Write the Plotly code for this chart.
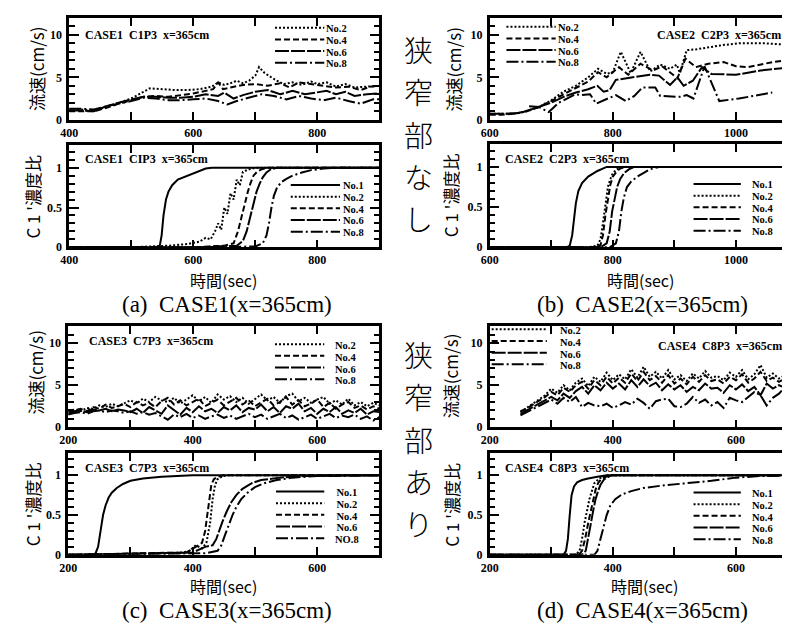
import plotly.graph_objects as go

W, H = 790, 625
def fx(px): return px / W
def fy(py): return 1 - py / H

DASH = {"No.1": "solid", "No.2": "2px,2px", "No.4": "6px,3px", "No.6": "14px,2px", "No.8": "12px,3px,2px,3px"}

# ---------------- CASE1 flow speed ----------------
a_flow_t2 = [400,420,440,460,480,500,520,530,550,570,590,610,630,640,650,660,670,680,690,700,706,715,730,745,760,775,790,800,815,830,845,860,880,900]
a_flow_v2 = [1.2,1.2,1.1,1.5,2.0,2.5,3.3,3.7,3.6,3.5,3.5,3.6,3.9,4.4,4.1,4.3,4.6,4.3,4.6,5.2,6.2,5.5,4.8,4.2,4.4,4.1,4.5,4.2,4.4,3.9,4.2,3.8,3.9,4.0]
a_flow_t4 = [400,420,440,460,480,500,520,540,560,580,600,620,632,640,648,660,680,700,720,740,755,770,790,810,830,850,870,885,900]
a_flow_v4 = [1.0,1.0,1.0,1.4,1.9,2.3,2.7,2.8,2.7,2.9,3.1,3.4,3.6,4.4,3.6,3.8,4.1,4.2,4.0,4.3,3.8,4.4,4.2,4.0,3.8,3.9,3.5,3.9,4.0]
a_flow_t6 = [400,420,440,460,480,500,520,540,560,580,600,620,640,650,665,680,700,720,740,760,780,800,815,830,845,860,880,900]
a_flow_v6 = [1.1,1.1,1.0,1.6,2.0,2.4,2.7,2.7,2.6,2.6,2.7,3.0,2.8,3.2,2.5,2.9,3.3,3.5,3.0,3.4,3.0,3.2,3.4,3.0,3.3,2.8,3.0,3.1]
a_flow_t8 = [400,420,440,460,480,500,520,540,560,580,600,620,640,655,670,690,710,730,750,770,790,810,830,850,870,890,900]
a_flow_v8 = [1.3,1.3,1.2,1.6,1.9,2.2,2.6,2.5,2.3,2.3,2.4,2.5,2.2,1.8,2.2,2.6,3.0,2.8,2.4,2.8,2.5,2.3,2.6,2.2,1.9,2.4,2.4]

# ---------------- CASE1 concentration ----------------
a_con_t1 = [400,450,500,540,546,549,552,556,560,566,575,590,605,620,630,700,800,900]
a_con_v1 = [0,0,0,0,0.02,0.15,0.4,0.6,0.7,0.78,0.85,0.9,0.95,0.99,1.0,1.0,1.0,1.0]
a_con_t2 = [400,500,560,590,610,620,628,635,640,645,650,655,660,665,670,675,680,690,700,900]
a_con_v2 = [0,0,0.02,0.04,0.07,0.12,0.1,0.2,0.3,0.22,0.5,0.42,0.68,0.6,0.85,0.78,0.95,0.98,1.0,1.0]
a_con_t4 = [400,600,650,665,672,678,683,688,692,697,703,710,720,900]
a_con_v4 = [0,0,0.02,0.05,0.2,0.4,0.55,0.7,0.8,0.9,0.95,0.98,1.0,1.0]
a_con_t6 = [400,600,670,680,686,692,697,702,707,712,718,725,735,900]
a_con_v6 = [0,0,0.02,0.08,0.2,0.4,0.55,0.7,0.8,0.88,0.94,0.98,1.0,1.0]
a_con_t8 = [400,600,700,712,718,722,726,730,735,742,750,760,775,790,810,830,900]
a_con_v8 = [0,0,0.01,0.05,0.15,0.3,0.5,0.65,0.75,0.82,0.86,0.9,0.94,0.97,0.99,1.0,1.0]

# ---------------- CASE2 flow speed ----------------
b_flow_t2 = [600,620,640,660,680,700,720,740,760,776,790,800,813,829,845,861,877,893,904,909,920,936,952,979,1005,1048,1090]
b_flow_v2 = [0.7,0.7,0.7,1.0,1.5,2.3,3.3,4.0,5.0,6.0,5.4,5.6,8.0,5.5,8.0,5.7,6.5,6.0,6.5,5.5,8.2,8.3,8.5,8.8,9.0,9.0,8.8]
b_flow_t4 = [600,620,640,660,680,700,720,740,760,776,790,810,825,845,865,880,905,918,935,955,980,1000,1020,1060,1080,1090]
b_flow_v4 = [0.6,0.6,0.7,1.0,1.5,2.2,3.0,3.8,4.5,5.6,5.0,6.2,5.3,6.6,5.8,6.3,4.9,7.2,6.2,6.6,6.8,6.3,6.2,6.8,7.0,6.5]
b_flow_t6 = [600,620,650,680,700,720,740,760,775,785,795,805,830,860,875,893,905,915,930,945,960,1000,1040,1080,1090]
b_flow_v6 = [0.7,0.7,0.8,1.5,2.0,2.7,3.2,3.6,4.0,3.3,3.5,4.7,5.0,5.3,5.2,4.1,5.0,4.0,4.6,6.2,5.4,5.3,5.8,6.1,5.8]
b_flow_t8 = [664,680,696,712,739,749,763,773,792,805,821,835,848,869,877,909,920,931,949,973,1005,1059]
b_flow_v8 = [1.6,1.5,0.9,2.0,3.0,2.9,3.0,1.9,2.5,2.9,2.2,2.8,3.8,3.8,2.8,2.7,2.9,2.5,6.3,2.2,2.5,3.2]

# ---------------- CASE2 concentration ----------------
b_con_t1 = [600,700,725,730,734,737,740,744,750,760,775,790,1100]
b_con_v1 = [0,0,0,0.02,0.15,0.35,0.55,0.7,0.8,0.88,0.95,1.0,1.0]
b_con_t2 = [600,760,775,780,784,788,792,796,800,806,815,1100]
b_con_v2 = [0,0,0.02,0.1,0.3,0.55,0.75,0.85,0.92,0.97,1.0,1.0]
b_con_t4 = [600,770,780,784,788,792,796,800,806,812,820,1100]
b_con_v4 = [0,0,0.03,0.15,0.4,0.6,0.78,0.88,0.94,0.98,1.0,1.0]
b_con_t6 = [600,780,790,795,799,803,807,812,818,826,835,1100]
b_con_v6 = [0,0,0.05,0.2,0.45,0.62,0.75,0.85,0.92,0.97,1.0,1.0]
b_con_t8 = [600,795,805,810,814,818,823,830,840,850,860,875,1100]
b_con_v8 = [0,0,0.05,0.2,0.45,0.62,0.75,0.82,0.88,0.93,0.97,1.0,1.0]

# ---------------- CASE3 flow speed (10 s steps, 200-700) ----------------
c_flow_t = list(range(200, 701, 10))
c_flow_v2 = [2.0,2.1,1.9,2.3,2.2,2.6,2.4,2.8,2.5,2.9,3.2,2.8,3.4,3.0,3.6,3.2,3.0,3.5,2.8,3.3,3.8,3.1,3.6,2.9,3.9,3.3,3.7,3.0,3.5,2.8,3.4,3.9,3.2,3.6,2.9,3.7,4.0,3.1,3.5,2.9,3.3,3.6,2.8,3.2,2.7,3.4,2.6,3.0,2.5,2.9,2.6]
c_flow_v4 = [1.8,2.0,2.2,1.9,2.4,2.2,2.7,2.3,2.5,2.8,2.4,3.0,2.6,2.9,2.4,3.1,3.5,2.7,3.2,2.6,3.0,3.4,2.5,2.9,3.3,2.6,3.1,3.5,2.7,3.2,2.5,2.9,3.4,2.6,3.0,3.6,2.7,3.2,2.5,2.8,3.3,2.4,2.9,2.2,2.7,3.0,2.3,2.6,2.1,2.5,2.2]
c_flow_v6 = [1.6,1.9,2.0,1.8,2.1,2.0,2.2,1.9,2.1,2.0,1.8,2.2,1.7,2.4,2.0,1.6,2.6,2.1,1.5,2.3,1.8,2.5,1.9,2.2,1.7,2.4,2.0,2.6,1.8,2.3,2.1,2.7,1.9,2.4,1.7,2.5,2.2,2.8,1.9,2.3,1.6,2.2,1.8,2.4,1.6,2.0,1.7,2.2,1.5,1.9,1.8]
c_flow_v8 = [1.5,1.7,1.8,1.6,1.9,2.0,1.8,2.0,1.9,1.7,1.9,1.6,1.8,1.5,1.7,1.3,0.9,1.5,1.2,1.6,1.1,1.4,1.0,1.3,1.5,1.1,1.4,1.0,1.3,1.6,1.2,1.5,1.0,1.3,1.6,1.1,1.4,0.9,1.2,1.5,1.0,1.3,1.6,1.1,1.4,1.2,1.5,1.0,1.3,0.8,1.2]

# ---------------- CASE3 concentration ----------------
c_con_t1 = [200,240,244,248,252,256,260,265,270,278,288,300,320,350,400,700]
c_con_v1 = [0,0,0.02,0.1,0.3,0.5,0.62,0.72,0.78,0.84,0.89,0.93,0.96,0.98,1.0,1.0]
c_con_t2 = [200,380,395,405,415,422,428,432,436,440,446,455,470,700]
c_con_v2 = [0,0.02,0.05,0.12,0.08,0.15,0.4,0.7,0.88,0.95,0.98,1.0,1.0,1.0]
c_con_t4 = [200,390,405,415,420,424,427,430,434,440,450,700]
c_con_v4 = [0,0.03,0.1,0.15,0.3,0.55,0.75,0.88,0.95,0.98,1.0,1.0]
c_con_t6 = [200,400,420,432,438,442,448,455,462,470,480,495,510,540,580,700]
c_con_v6 = [0,0.03,0.1,0.12,0.2,0.3,0.42,0.55,0.66,0.75,0.83,0.9,0.94,0.97,0.99,1.0]
c_con_t8 = [200,420,440,446,452,458,464,470,478,488,500,515,535,560,600,700]
c_con_v8 = [0,0.02,0.05,0.12,0.25,0.38,0.5,0.6,0.7,0.78,0.85,0.9,0.94,0.97,0.99,1.0]

# ---------------- CASE4 flow speed (10 s steps, 250-700) ----------------
d_flow_t = list(range(250, 701, 10))
d_flow_v2 = [1.8,2.3,2.9,3.3,3.8,4.6,4.1,5.0,4.4,5.3,5.8,4.9,6.0,5.4,6.5,5.6,6.3,5.7,6.9,5.9,7.2,6.0,6.6,5.8,6.8,5.7,6.2,5.5,6.4,5.8,6.7,5.9,6.1,5.6,6.5,6.0,6.8,5.7,6.3,7.4,5.9,6.4,5.8,6.2,5.6,6.0]
d_flow_v4 = [1.9,2.2,2.7,3.1,3.6,4.2,3.8,4.7,4.2,5.0,5.4,4.6,5.6,5.0,6.0,5.2,5.9,5.3,6.4,5.5,6.6,5.6,6.1,5.3,6.2,5.2,5.8,5.1,6.0,5.4,6.2,5.5,5.7,5.2,6.0,5.6,6.3,5.3,5.8,6.6,5.5,5.9,5.4,5.8,5.2,5.6]
d_flow_v6 = [1.6,2.0,2.4,2.8,3.3,3.6,3.2,4.0,3.5,4.3,4.8,4.0,5.0,4.4,5.3,4.6,5.2,4.5,5.6,4.8,5.7,4.9,5.3,4.4,5.1,4.5,5.0,4.2,4.8,4.4,5.2,4.6,4.7,4.1,5.0,4.5,5.1,4.3,4.8,3.8,5.2,4.6,5.0,4.7,5.3,4.9]
d_flow_v8 = [1.4,1.8,2.2,2.6,3.0,3.3,2.8,3.5,3.0,3.6,2.4,2.9,2.6,2.5,2.8,2.3,2.6,3.0,2.7,3.4,2.9,2.2,3.1,3.3,3.4,2.5,2.4,2.8,3.6,2.9,3.3,2.6,3.0,2.3,3.5,3.2,3.0,3.6,4.2,3.8,2.6,3.5,4.0,4.8,3.7,4.3]

# ---------------- CASE4 concentration ----------------
d_con_t1 = [200,320,324,327,330,333,337,342,350,360,375,390,700]
d_con_v1 = [0,0,0.05,0.2,0.5,0.75,0.86,0.91,0.94,0.96,0.98,1.0,1.0]
d_con_t2 = [200,340,346,350,354,358,362,366,370,378,390,700]
d_con_v2 = [0,0,0.05,0.2,0.4,0.55,0.7,0.8,0.9,0.96,1.0,1.0]
d_con_t4 = [200,345,350,355,360,364,368,372,376,382,395,700]
d_con_v4 = [0,0,0.05,0.2,0.4,0.55,0.7,0.82,0.9,0.96,1.0,1.0]
d_con_t6 = [200,350,356,360,364,368,372,376,380,386,398,700]
d_con_v6 = [0,0,0.05,0.2,0.38,0.55,0.7,0.8,0.88,0.95,1.0,1.0]
d_con_t8 = [200,370,375,380,385,390,396,404,415,430,450,480,520,560,600,640,700]
d_con_v8 = [0,0,0.05,0.2,0.35,0.5,0.62,0.7,0.76,0.8,0.84,0.87,0.9,0.93,0.97,0.99,1.0]

panel_titles = ["CASE1  C1P3  x=365cm", "CASE1  CIP3  x=365cm",
                "CASE2  C2P3  x=365cm", "CASE2  C2P3  x=365cm",
                "CASE3  C7P3  x=365cm", "CASE3  C7P3  x=365cm",
                "CASE4  C8P3  x=365cm", "CASE4  C8P3  x=365cm"]
flow_labels = ["No.2", "No.4", "No.6", "No.8"]
conc_labels = ["No.1", "No.2", "No.4", "No.6", "No.8"]
conc_labels_c = ["No.1", "No.2", "No.4", "No.6", "NO.8"]
captions = ["(a)  CASE1(x=365cm)", "(b)  CASE2(x=365cm)", "(c)  CASE3(x=365cm)", "(d)  CASE4(x=365cm)"]
x_title = "時間(sec)"
y_title_flow = "流速(cm/s)"
y_title_conc = "C 1 '濃度比"
side_text_1 = "狭窄部なし"
side_text_2 = "狭窄部あり"

# panel series: (axis index, label, t, v)
series = [
    (1, "No.2", a_flow_t2, a_flow_v2), (1, "No.4", a_flow_t4, a_flow_v4),
    (1, "No.6", a_flow_t6, a_flow_v6), (1, "No.8", a_flow_t8, a_flow_v8),
    (2, "No.1", a_con_t1, a_con_v1), (2, "No.2", a_con_t2, a_con_v2), (2, "No.4", a_con_t4, a_con_v4),
    (2, "No.6", a_con_t6, a_con_v6), (2, "No.8", a_con_t8, a_con_v8),
    (3, "No.2", b_flow_t2, b_flow_v2), (3, "No.4", b_flow_t4, b_flow_v4),
    (3, "No.6", b_flow_t6, b_flow_v6), (3, "No.8", b_flow_t8, b_flow_v8),
    (4, "No.1", b_con_t1, b_con_v1), (4, "No.2", b_con_t2, b_con_v2), (4, "No.4", b_con_t4, b_con_v4),
    (4, "No.6", b_con_t6, b_con_v6), (4, "No.8", b_con_t8, b_con_v8),
    (5, "No.2", c_flow_t, c_flow_v2), (5, "No.4", c_flow_t, c_flow_v4),
    (5, "No.6", c_flow_t, c_flow_v6), (5, "No.8", c_flow_t, c_flow_v8),
    (6, "No.1", c_con_t1, c_con_v1), (6, "No.2", c_con_t2, c_con_v2), (6, "No.4", c_con_t4, c_con_v4),
    (6, "No.6", c_con_t6, c_con_v6), (6, "No.8", c_con_t8, c_con_v8),
    (7, "No.2", d_flow_t, d_flow_v2), (7, "No.4", d_flow_t, d_flow_v4),
    (7, "No.6", d_flow_t, d_flow_v6), (7, "No.8", d_flow_t, d_flow_v8),
    (8, "No.1", d_con_t1, d_con_v1), (8, "No.2", d_con_t2, d_con_v2), (8, "No.4", d_con_t4, d_con_v4),
    (8, "No.6", d_con_t6, d_con_v6), (8, "No.8", d_con_t8, d_con_v8),
]

# layout geometry in pixels: (x0, x1, ytop, ybottom, xrange, is_flow)
geom = {
    1: (53, 368, 10, 113, [400, 900], True),
    2: (53, 368, 139, 242, [400, 900], False),
    3: (480, 790, 10, 113, [600, 1096], True),
    4: (480, 790, 138, 242, [600, 1096], False),
    5: (52, 368, 322, 424, [200, 700], True),
    6: (52, 368, 450, 553, [200, 700], False),
    7: (480, 790, 322, 424, [200, 696], True),
    8: (480, 790, 450, 553, [200, 696], False),
}

fig = go.Figure()
for ax, lab, t, v in series:
    sfx = "" if ax == 1 else str(ax)
    fig.add_trace(go.Scatter(x=t, y=v, mode="lines", name=lab, showlegend=False,
                             xaxis="x" + sfx, yaxis="y" + sfx,
                             line=dict(color="black", width=2, dash=DASH[lab])))

SERIF = "Liberation Serif"
CJK = "Noto Sans CJK JP"
tickfont = dict(family=SERIF, size=12, color="black", weight="bold")
layout = dict(width=W, height=H, margin=dict(l=0, r=0, t=0, b=0),
              paper_bgcolor="white", plot_bgcolor="white", showlegend=False)

for ax, (x0, x1, yt, yb, xr, is_flow) in geom.items():
    sfx = "" if ax == 1 else str(ax)
    layout["xaxis" + sfx] = dict(
        domain=[fx(x0), fx(x1)], range=xr, anchor="y" + sfx,
        showline=True, linecolor="black", linewidth=2.5, mirror="ticks",
        ticks="inside", ticklen=8, tickwidth=2, tickcolor="black",
        tick0=0, dtick=200, showgrid=False, zeroline=False,
        minor=dict(ticks="inside", dtick=100, ticklen=8, tickwidth=2, tickcolor="black", showgrid=False),
        tickfont=tickfont, ticklabelstandoff=0)
    if is_flow:
        yr, dt, mdt = [0, 12], 5, 1
    else:
        yr, dt, mdt = [0, 1.28], 0.5, 0.1
    layout["yaxis" + sfx] = dict(
        domain=[fy(yb), fy(yt)], range=yr, anchor="x" + sfx,
        showline=True, linecolor="black", linewidth=2.5, mirror="ticks",
        ticks="inside", ticklen=10, tickwidth=2, tickcolor="black",
        tick0=0, dtick=dt, showgrid=False, zeroline=False,
        minor=dict(ticks="inside", dtick=mdt, ticklen=6, tickwidth=2, tickcolor="black", showgrid=False),
        tickfont=tickfont, ticklabelstandoff=2)

annotations = []
shapes = []

def text(px, py, s, size, family=SERIF, xanchor="center", yanchor="middle", angle=0, weight="normal"):
    annotations.append(dict(x=fx(px), y=fy(py), xref="paper", yref="paper", text=s,
                            showarrow=False, xanchor=xanchor, yanchor=yanchor, textangle=angle,
                            borderpad=0,
                            font=dict(family=family, size=size, color="black", weight=weight)))

# in-panel titles (px position, anchor)
title_pos = {1: (68, 27, "left"), 2: (68, 153, "left"), 3: (777, 27, "right"), 4: (495, 153, "left"),
             5: (72, 337, "left"), 6: (68, 465, "left"), 7: (778, 342, "right"), 8: (495, 465, "left")}
for ax, (px, py, anc) in title_pos.items():
    text(px, py, panel_titles[ax - 1], 12, xanchor=anc, weight="bold")

# legend keys: (axis, line x0, line x1, text x, first row y, row step, labels)
STEP = 11.8
legend_pos = [
    (1, 262, 312, 313, 20, STEP, flow_labels),
    (2, 278, 328, 330, 179, STEP, conc_labels),
    (3, 497, 547, 548, 19, STEP, flow_labels),
    (4, 687, 735, 745, 178, STEP, conc_labels),
    (5, 262, 312, 322, 340, STEP, flow_labels),
    (6, 263, 312, 322, 489, STEP, conc_labels_c),
    (7, 482, 538, 550, 325, STEP, flow_labels),
    (8, 687, 735, 745, 490, STEP, conc_labels),
]
for ax, lx0, lx1, tx, y0, step, labs in legend_pos:
    for i, lab in enumerate(labs):
        py = y0 + i * step
        key = "No.8" if lab == "NO.8" else lab
        shapes.append(dict(type="line", xref="paper", yref="paper", x0=fx(lx0), x1=fx(lx1),
                           y0=fy(py), y1=fy(py), line=dict(color="black", width=2, dash=DASH[key])))
    base = step / 1.3
    block = "<br>".join('<span style="font-size:10.5px">%s</span>' % lab for lab in labs)
    ymid = y0 + (len(labs) - 1) * step / 2
    text(tx, ymid + 1, block, base, xanchor="left", weight="bold")

# axis titles
for px, py in [(20, 61), (443, 62), (19, 368), (441, 372)]:
    text(px, py, y_title_flow, 17, family=CJK, angle=-90)
for px, py in [(16, 191), (441, 189), (16, 502), (441, 502)]:
    text(px, py, y_title_conc, 17, family=CJK, angle=-90)
for px, py in [(210, 275), (633, 275), (210, 585), (637, 585)]:
    text(px, py, x_title, 16, family=CJK)
for (px, py), cap in zip([(213, 300), (635, 300), (213, 609), (635, 609)], captions):
    text(px, py, cap.replace("  ", "\u00a0\u00a0"), 23)

# large vertical side labels: base size sets 42px line pitch, glyph spans slightly smaller
for s, py in [(side_text_1, 127), (side_text_2, 435)]:
    block = "<br>".join('<span style="font-size:29px">%s</span>' % ch for ch in s)
    annotations.append(dict(x=fx(408), y=fy(py), xref="paper", yref="paper", text=block,
                            showarrow=False, xanchor="center", yanchor="middle", borderpad=0,
                            font=dict(family=CJK, size=32.5, color="black", weight=300)))

layout["annotations"] = annotations
layout["shapes"] = shapes
fig.update_layout(**layout)
fig.write_html("out.html")
